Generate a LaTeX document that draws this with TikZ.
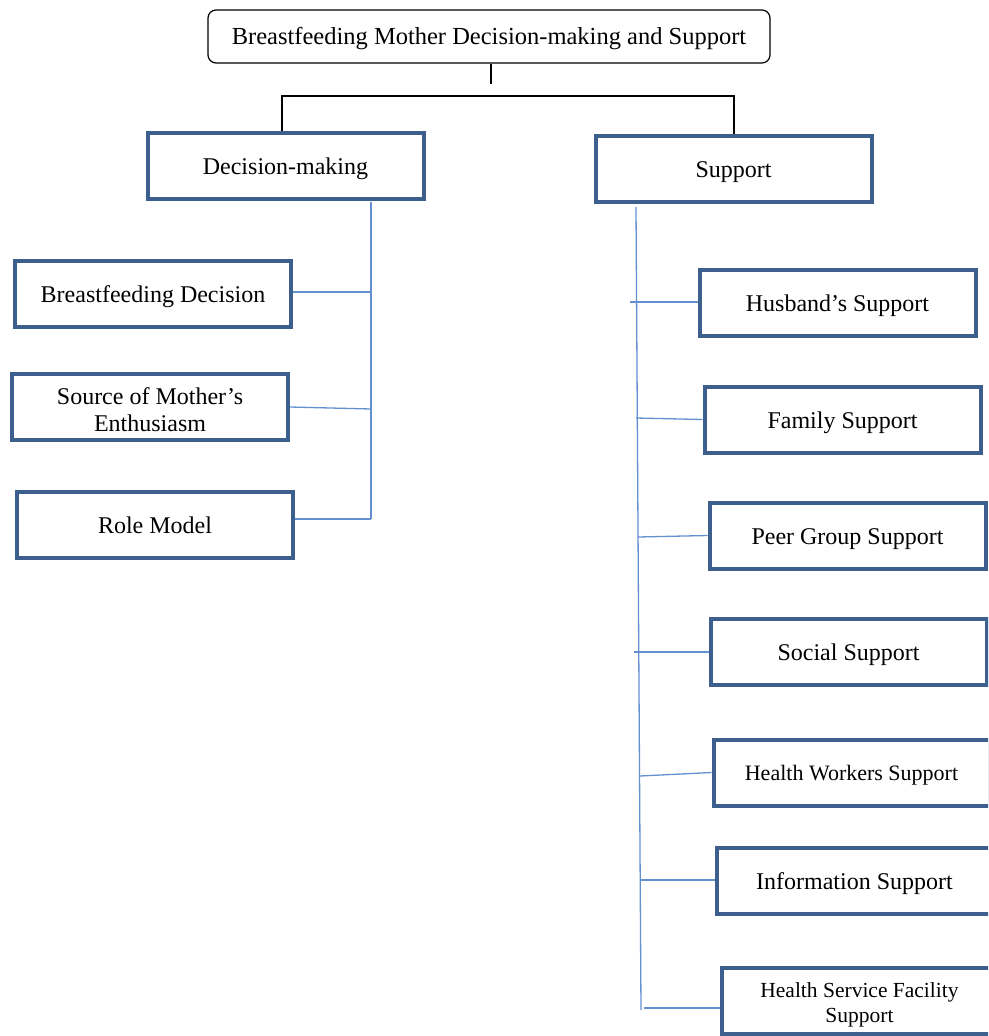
\documentclass[tikz,border=0pt]{standalone}
\usepackage{fontspec}
\setmainfont{Liberation Serif}
\definecolor{boxblue}{HTML}{3D5F8E}
\definecolor{lineblue}{HTML}{6390D0}
\begin{document}
\begin{tikzpicture}[x=1pt,y=-1pt,
  blk/.style={draw=black,line width=1.3pt},
  bln/.style={draw=lineblue,line width=1.3pt},
  topbox/.style={draw=black,line width=1.2pt,rounded corners=8pt,minimum width=562pt,minimum height=53pt,inner sep=0pt,text height=20pt,text depth=5pt,font=\fontsize{24.5}{27}\selectfont},
  cbox/.style={draw=boxblue,line width=4pt,fill=white,minimum width=276pt,minimum height=66pt,inner sep=0pt,align=center,text height=22pt,text depth=5pt,font=\fontsize{24}{27}\selectfont},
  sbox/.style={cbox,text height=20pt,font=\fontsize{22}{26}\selectfont}]
\useasboundingbox (0,0) rectangle (988,1036);
\clip (0,0) rectangle (988,1036);
% top
\node[topbox] (Top) at (489,36.5) {Breastfeeding Mother Decision-making and Support};
\node[cbox] (Dec) at (285.5,165.5) {Decision-making};
\node[cbox] (Sup) at (733.5,168.5) {Support};
% left column
\node[cbox] (BD) at (153,294) {Breastfeeding Decision};
\node[cbox,text height=50pt,text depth=2pt] (Src) at (150,407) {Source of Mother’s\\Enthusiasm};
\node[cbox] (RM) at (155,525) {Role Model};
% right column
\node[cbox] (Hus) at (837.5,302.5) {Husband’s Support};
\node[cbox] (Fam) at (842.5,419.5) {Family Support};
\node[cbox] (Peer) at (847.5,535.5) {Peer Group Support};
\node[cbox] (Soc) at (848.5,652) {Social Support};
\node[sbox] (HW) at (851.5,772.5) {Health Workers Support};
\node[sbox,text height=44pt,text depth=2pt,font=\fontsize{21.5}{25}\selectfont] (HSF) at (859.5,1001) {Health Service Facility\\Support};
\node[cbox] (Info) at (854.5,881) {Information Support};
% black tree
\coordinate (stubB) at (491,84);
\coordinate (hl) at (282,96);
\coordinate (hr) at (734,96);
\draw[blk] (Top.south -| stubB) -- (stubB);
\draw[blk] (Dec.north -| hl) -- (hl) -- (hr) -- (Sup.north -| hr);
% left blue trunk
\coordinate (dT) at (371,202);
\coordinate (j1) at (371,292);
\coordinate (j2) at (371,409);
\coordinate (j3) at (371,519);
\draw[bln] (dT) -- (j3);
\draw[bln] (BD.east |- j1) -- (j1);
\draw[bln] (Src.east) -- (j2);
\draw[bln] (RM.east |- j3) -- (j3);
% right blue trunk
\coordinate (sT) at (636,207);
\coordinate (sB) at (641,1010);
\draw[bln] (sT) -- (sB);
\coordinate (k1) at (630,302);
\coordinate (k2) at (636,418);
\coordinate (k3) at (638,537);
\coordinate (k4) at (634,652);
\coordinate (k5) at (640,776);
\coordinate (k6) at (640,880);
\coordinate (k7) at (644,1008);
\draw[bln] (k1) -- (Hus.west |- k1);
\draw[bln] (k2) -- (Fam.west);
\draw[bln] (k3) -- (Peer.west);
\draw[bln] (k4) -- (Soc.west |- k4);
\draw[bln] (k5) -- (HW.west);
\draw[bln] (k6) -- (Info.west |- k6);
\draw[bln] (k7) -- (HSF.west |- k7);
\end{tikzpicture}
\end{document}
